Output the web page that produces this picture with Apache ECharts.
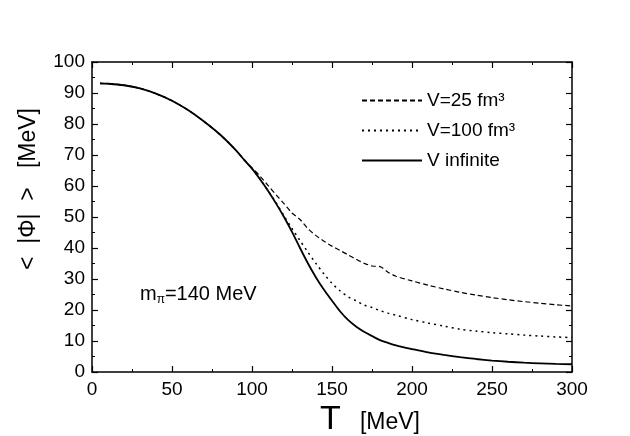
<!DOCTYPE html>
<html>
<head>
<meta charset="utf-8">
<script src="https://cdn.jsdelivr.net/npm/echarts@6/dist/echarts.min.js"></script>
<style>
  html, body { margin: 0; padding: 0; background: #fff; }
  #chart { width: 630px; height: 436px; }
</style>
</head>
<body>
<div id="chart"></div>
<script>
// temperatures T [MeV]
const temps = [5, 10, 20, 30, 40, 50, 60, 70, 80, 90,
  95, 100, 105, 110, 115, 120, 125, 130, 135, 140,
  145, 150, 155, 160, 165, 170, 175, 180, 185, 190,
  200, 210, 220, 230, 240, 250, 260, 270, 280, 290, 300];

// <|Phi|> [MeV]
const phiV25 = [93.1, 93.0, 92.5, 91.5, 89.8, 87.5, 84.5, 80.8, 76.6, 71.5,
  68.5, 65.9, 63.2, 60.2, 57.2, 54.3, 51.3, 49.2, 46.2, 44.0,
  42.2, 40.6, 39.2, 37.8, 36.4, 35.1, 34.2, 34.0, 32.2, 30.9,
  29.4, 28.0, 26.8, 25.7, 24.8, 24.0, 23.3, 22.7, 22.2, 21.7, 21.3];

const phiV100 = [93.1, 93.0, 92.5, 91.5, 89.8, 87.5, 84.5, 80.8, 76.6, 71.5,
  68.5, 65.6, 62.2, 58.5, 54.6, 50.4, 46.3, 42.4, 38.6, 35.0,
  31.6, 28.6, 26.2, 24.3, 23.0, 21.6, 20.8, 19.8, 19.0, 18.3,
  16.9, 15.8, 14.8, 13.8, 13.2, 12.7, 12.3, 11.9, 11.6, 11.3, 11.1];

const phiInf = [93.1, 93.0, 92.5, 91.5, 89.8, 87.5, 84.5, 80.8, 76.6, 71.5,
  68.5, 65.6, 62.2, 58.5, 54.4, 50.0, 45.2, 40.0, 35.0, 30.5,
  26.5, 23.0, 19.6, 16.8, 14.7, 13.0, 11.6, 10.3, 9.4, 8.6,
  7.4, 6.3, 5.5, 4.8, 4.2, 3.7, 3.3, 3.0, 2.8, 2.6, 2.5];

const seriesNames = ["V=25 fm\u00b3", "V=100 fm\u00b3", "V infinite"];

const font = "'Liberation Sans', Arial, sans-serif";
const pairs = (ys) => temps.map((t, i) => [t, ys[i]]);

const chart = echarts.init(document.getElementById("chart"), null, { renderer: "canvas" });

function frameAxis(extra) {
  return Object.assign({
    type: "value",
    axisLine: { show: true, onZero: false, lineStyle: { color: "#000", width: 1.5 } },
    axisTick: { show: true, inside: true, length: 6, lineStyle: { color: "#000", width: 1.2 } },
    minorTick: { show: true, splitNumber: 2, length: 3, lineStyle: { color: "#000", width: 1 } },
    splitLine: { show: false },
  }, extra);
}

const option = {
  animation: false,
  textStyle: { fontFamily: font },
  grid: { left: 92, right: 58, top: 62, bottom: 64 },
  legend: {
    orient: "vertical",
    left: 361,
    top: 91,
    padding: 0,
    itemWidth: 60,
    itemHeight: 14,
    itemGap: 11,
    itemStyle: { opacity: 0 },
    textStyle: { fontFamily: font, fontSize: 19, color: "#000" },
    data: seriesNames,
  },
  xAxis: [
    frameAxis({
      min: 0, max: 300, interval: 50, position: "bottom",
      axisLabel: { color: "#000", fontSize: 19, fontFamily: font, margin: 8 },
    }),
    frameAxis({
      min: 0, max: 300, interval: 50, position: "top",
      axisLabel: { show: false },
    }),
  ],
  yAxis: [
    frameAxis({
      min: 0, max: 100, interval: 10, position: "left",
      axisLabel: { color: "#000", fontSize: 19, fontFamily: font, margin: 7 },
    }),
    frameAxis({
      min: 0, max: 100, interval: 10, position: "right",
      axisLabel: { show: false },
    }),
  ],
  graphic: [
    {
      type: "text",
      left: 140,
      top: 284,
      style: {
        text: "{m|m}{s|\u03c0}{m|=140 MeV}",
        rich: {
          m: { fontSize: 20, fontFamily: font, fill: "#000" },
          s: { fontSize: 12, fontFamily: font, fill: "#000", padding: [12, 0, 0, 0] },
        },
      },
    },
    {
      type: "text",
      left: 320,
      top: 403,
      style: {
        text: "{big|T}{sm|   [MeV]}",
        rich: {
          big: { fontSize: 34, fontFamily: font, fill: "#000" },
          sm: { fontSize: 23, fontFamily: font, fill: "#000", padding: [6, 0, 0, 0] },
        },
      },
    },
    {
      type: "text",
      x: 17,
      y: 270,
      rotation: Math.PI / 2,
      style: {
        text: "<  |\u03a6|  >   [MeV]",
        font: "23px " + font,
        fill: "#000",
        textAlign: "left",
        textVerticalAlign: "top",
      },
    },
  ],
  series: [
    {
      name: seriesNames[0], type: "line", data: pairs(phiV25),
      xAxisIndex: 0, yAxisIndex: 0,
      showSymbol: false, symbol: "none", smooth: 0.3,
      lineStyle: { color: "#000", width: 1.2, type: [5, 3] },
      itemStyle: { color: "#000" },
    },
    {
      name: seriesNames[1], type: "line", data: pairs(phiV100),
      xAxisIndex: 0, yAxisIndex: 0,
      showSymbol: false, symbol: "none", smooth: 0.3,
      lineStyle: { color: "#000", width: 1.5, type: [2, 4] },
      itemStyle: { color: "#000" },
    },
    {
      name: seriesNames[2], type: "line", data: pairs(phiInf),
      xAxisIndex: 0, yAxisIndex: 0,
      showSymbol: false, symbol: "none", smooth: 0.3,
      lineStyle: { color: "#000", width: 1.8, type: "solid" },
      itemStyle: { color: "#000" },
    },
  ],
};

chart.setOption(option);
</script>
</body>
</html>
